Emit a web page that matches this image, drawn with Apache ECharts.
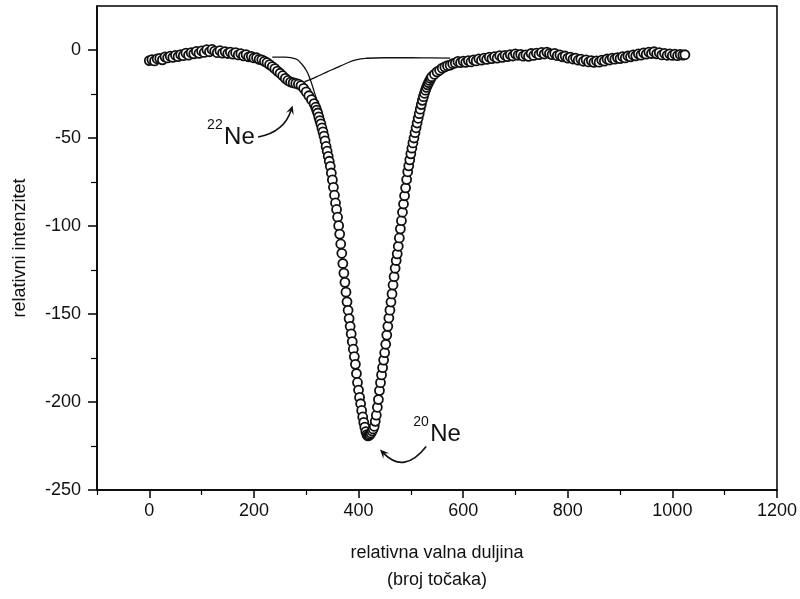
<!DOCTYPE html>
<html>
<head>
<meta charset="utf-8">
<script src="https://cdn.jsdelivr.net/npm/echarts@6/dist/echarts.min.js"></script>
<style>
  html, body { margin: 0; padding: 0; background: #fff; }
  #chart { width: 800px; height: 599px; }
</style>
</head>
<body>
<div id="chart"></div>
<script>
// measured points (x = broj točaka, y = relativni intenzitet)
var pointX = [
  0, 5, 10, 15, 20, 25, 30, 35, 40, 45, 50, 55, 60, 65, 70, 75, 80, 85, 90, 95,
  100, 105, 110, 115, 120, 125, 130, 135, 140, 145, 150, 155, 160, 165, 170, 175, 180, 185, 190, 195,
  200, 205, 210, 215, 220, 225, 230, 235, 240, 245, 250, 255, 260, 265, 270, 275, 280, 285, 290, 295,
  300, 305, 310, 315,
  318, 320, 322, 324, 326, 328, 330, 332, 334, 336, 338, 340, 342, 344, 346, 348, 350, 352, 354, 356, 358,
  360, 362, 364, 366, 368, 370, 372, 374, 376, 378, 380, 382, 384, 386, 388, 390, 392, 394, 396, 398,
  400, 402, 404, 406, 408, 410, 412, 414, 416, 418, 420, 422, 424, 426, 428, 430, 432, 434, 436, 438,
  440, 442, 444, 446, 448, 450, 452, 454, 456, 458, 460, 462, 464, 466, 468, 470, 472, 474, 476, 478,
  480, 482, 484, 486, 488, 490, 492, 494, 496, 498, 500, 502, 504, 506, 508, 510, 512, 514, 516, 518,
  520, 522, 524, 526, 528, 530, 532, 534, 536, 538, 540,
  545, 550, 555, 560, 565, 570, 575, 580, 585, 590, 595, 600, 605, 610, 615, 620, 625, 630, 635, 640,
  645, 650, 655, 660, 665, 670, 675, 680, 685, 690, 695, 700, 705, 710, 715, 720, 725, 730, 735, 740,
  745, 750, 755, 760, 765, 770, 775, 780, 785, 790, 795, 800, 805, 810, 815, 820, 825, 830, 835, 840,
  845, 850, 855, 860, 865, 870, 875, 880, 885, 890, 895, 900, 905, 910, 915, 920, 925, 930, 935, 940,
  945, 950, 955, 960, 965, 970, 975, 980, 985, 990, 995, 1000, 1005, 1010, 1015, 1020, 1024
];
var pointY = [
  -6.0, -5.5, -6.2, -5.0, -4.8, -5.6, -3.9, -4.5, -3.5, -4.2, -3.0, -3.8, -2.6, -3.2, -1.8, -2.9, -1.5, -2.2, -0.8, -1.9,
  -0.5, -1.4, 0.2, -1.0, 0.3, -0.6, -1.5, -0.4, -1.8, -0.9, -2.0, -1.2, -2.4, -1.5, -2.8, -2.1, -3.3, -2.6, -3.9, -3.6,
  -4.5, -4.4, -5.3, -5.6, -6.4, -7.2, -8.3, -9.4, -10.6, -12.0, -13.2, -14.6, -16.1, -17.3, -18.2, -18.6, -19.0, -19.4, -20.2, -21.8,
  -23.8, -26.0, -28.2, -30.5,
  -32.5, -34.2, -35.8, -38.0, -40.1, -42.0, -44.3, -46.5, -48.9, -51.6, -54.8, -57.5, -60.4, -63.2, -66.1, -69.9, -73.8, -78.0, -82.5, -86.9, -90.6,
  -95.0, -99.8, -104.6, -110.2, -115.5, -121.3, -126.8, -132.0, -137.6, -143.1, -147.9, -152.6, -157.0, -161.3, -165.7, -170.0, -174.2, -178.6, -183.8, -188.9,
  -193.2, -197.4, -201.0, -204.8, -208.5, -211.6, -214.3, -216.8, -218.5, -219.3, -219.0, -218.4, -217.6, -216.5, -215.3, -213.8, -211.0, -207.5, -203.0, -198.6,
  -193.5, -189.0, -184.6, -180.5, -176.2, -172.0, -167.2, -162.0, -157.0, -152.3, -147.8, -143.2, -138.6, -133.5, -128.8, -124.0, -119.6, -115.8, -111.5, -106.8,
  -101.6, -97.0, -92.2, -87.5, -82.8, -78.3, -73.6, -69.2, -65.8, -62.4, -59.0, -55.8, -52.8, -50.0, -47.0, -44.2, -41.5, -38.8, -36.2, -33.6,
  -31.0, -28.6, -26.5, -24.6, -22.8, -21.2, -19.8, -18.5, -17.3, -16.2, -15.2,
  -13.8, -12.4, -11.5, -10.3, -9.6, -8.9, -8.6, -7.8, -7.4, -6.5, -7.2, -6.3, -7.0, -6.0, -6.8, -5.6, -6.2, -5.0, -5.8, -4.6,
  -5.3, -4.1, -4.9, -3.8, -4.6, -3.2, -4.2, -3.0, -3.8, -2.6, -3.4, -2.2, -3.0, -2.5, -3.5, -2.8, -3.6, -2.0, -3.1, -1.8,
  -2.6, -1.4, -2.3, -1.2, -2.0, -2.6, -1.9, -3.2, -2.8, -3.9, -3.4, -4.6, -4.0, -5.1, -4.6, -5.8, -5.2, -6.4, -5.6, -6.8,
  -6.0, -7.0, -6.2, -6.9, -5.8, -6.3, -5.1, -5.7, -4.6, -5.2, -4.3, -4.9, -3.8, -4.5, -3.4, -3.9, -2.8, -3.3, -2.2, -2.9,
  -1.6, -2.4, -1.2, -2.0, -1.0, -2.2, -1.5, -2.8, -1.9, -3.0, -2.2, -3.1, -2.4, -3.2, -2.5, -2.9, -2.7
];

// thin fitted lines
var fitAX = [235, 260, 280, 290, 300, 308, 315, 322];
var fitAY = [-4.0, -4.0, -5.0, -7.5, -11.5, -17.0, -23.5, -30.0];
var fitBX = [297, 310, 325, 340, 357, 375, 395, 415, 450, 500, 540, 575];
var fitBY = [-18.0, -16.5, -14.5, -12.4, -10.2, -7.8, -5.6, -4.7, -4.4, -4.4, -4.5, -4.6];

// axis ticks
var xMajor = [0, 200, 400, 600, 800, 1000, 1200];
var xMinor = [-100, 100, 300, 500, 700, 900, 1100];
var yMajor = [-250, -200, -150, -100, -50, 0];
var yMinor = [-225, -175, -125, -75, -25];

var FONT = '"Liberation Sans", Arial, sans-serif';

function pairs(xs, ys) {
  return xs.map(function (x, i) { return [x, ys[i]]; });
}

var chart = echarts.init(document.getElementById('chart'));

var hiddenAxis = {
  axisLine: { show: false, onZero: false },
  axisLabel: { show: false },
  splitLine: { show: false }
};

chart.setOption({
  animation: false,
  backgroundColor: '#fff',
  grid: {
    left: 97, right: 22, top: 6, bottom: 108,
    show: true, borderColor: '#000', borderWidth: 1.5
  },
  xAxis: [
    {
      type: 'value', min: -100, max: 1200, interval: 200,
      name: 'relativna valna duljina\n(broj točaka)',
      nameLocation: 'middle', nameGap: 50,
      nameTextStyle: { fontFamily: FONT, fontSize: 18, color: '#111', lineHeight: 27 },
      axisLine: { show: true, onZero: false, lineStyle: { color: '#000', width: 1.5 } },
      axisTick: { show: true, length: 8, customValues: xMajor, lineStyle: { color: '#000', width: 1.5 } },
      axisLabel: {
        customValues: xMajor, fontFamily: FONT, fontSize: 18, color: '#111', margin: 12,
        formatter: function (v) { return String(v); }
      },
      splitLine: { show: false }
    },
    Object.assign({
      type: 'value', min: -100, max: 1200, position: 'bottom', offset: 0,
      axisTick: { show: true, length: 5, customValues: xMinor, lineStyle: { color: '#000', width: 1.2 } }
    }, hiddenAxis)
  ],
  yAxis: [
    {
      type: 'value', min: -250, max: 25, interval: 50,
      name: 'relativni intenzitet',
      nameLocation: 'middle', nameGap: 68,
      nameTextStyle: { fontFamily: FONT, fontSize: 18, color: '#111' },
      axisLine: { show: true, onZero: false, lineStyle: { color: '#000', width: 1.5 } },
      axisTick: { show: true, length: 9, customValues: yMajor, lineStyle: { color: '#000', width: 1.5 } },
      axisLabel: {
        customValues: yMajor, fontFamily: FONT, fontSize: 18, color: '#111', margin: 16,
        formatter: function (v) { return String(v); }
      },
      splitLine: { show: false }
    },
    Object.assign({
      type: 'value', min: -250, max: 25, position: 'left', offset: 0,
      axisTick: { show: true, length: 6, customValues: yMinor, lineStyle: { color: '#000', width: 1.2 } }
    }, hiddenAxis)
  ],
  series: [
    {
      type: 'scatter',
      data: pairs(pointX, pointY),
      symbol: 'circle',
      symbolSize: 9,
      itemStyle: { color: '#fff', borderColor: '#111', borderWidth: 1.8, opacity: 1 },
      z: 3
    },
    {
      type: 'line',
      data: pairs(fitAX, fitAY),
      smooth: true, showSymbol: false, symbol: 'none',
      lineStyle: { color: '#111', width: 1.3 },
      z: 4
    },
    {
      type: 'line',
      data: pairs(fitBX, fitBY),
      smooth: true, showSymbol: false, symbol: 'none',
      lineStyle: { color: '#111', width: 1.3 },
      z: 4
    }
  ]
});

// isotope labels with curved arrows, anchored in data coordinates
function toPx(pt) { return chart.convertToPixel({ gridIndex: 0 }, pt); }

function isotopeLabel(mass, anchor, tip, ctrl, tail) {
  var a = toPx(anchor);
  var t = toPx(tip);
  var s = [a[0] + tail[0], a[1] + tail[1]];
  var c = [a[0] + ctrl[0], a[1] + ctrl[1]];
  // arrowhead along the end tangent
  var dx = t[0] - c[0], dy = t[1] - c[1];
  var len = Math.sqrt(dx * dx + dy * dy);
  dx /= len; dy /= len;
  var hl = 9, hw = 4;
  var head = [
    [t[0], t[1]],
    [t[0] - dx * hl - dy * hw, t[1] - dy * hl + dx * hw],
    [t[0] - dx * hl * 0.6, t[1] - dy * hl * 0.6],
    [t[0] - dx * hl + dy * hw, t[1] - dy * hl - dx * hw]
  ];
  return [
    {
      type: 'text', left: a[0] - 17, top: a[1] - 20,
      style: { text: mass, font: '14px ' + FONT, fill: '#111' }
    },
    {
      type: 'text', left: a[0], top: a[1] - 13,
      style: { text: 'Ne', font: '24px ' + FONT, fill: '#111' }
    },
    {
      type: 'bezierCurve',
      shape: { x1: s[0], y1: s[1], x2: t[0] - dx * 5, y2: t[1] - dy * 5, cpx1: c[0], cpy1: c[1] },
      style: { stroke: '#111', lineWidth: 1.6, fill: null }
    },
    {
      type: 'polygon',
      shape: { points: head },
      style: { fill: '#111' }
    }
  ];
}

chart.setOption({
  graphic: [].concat(
    isotopeLabel('22', [143, -50], [274, -31.5], [60, -6], [34, -1]),
    isotopeLabel('20', [537, -219], [441, -227], [-26, 39], [-4, 11])
  )
});

window.onresize = function () { chart.resize(); };
</script>
</body>
</html>
